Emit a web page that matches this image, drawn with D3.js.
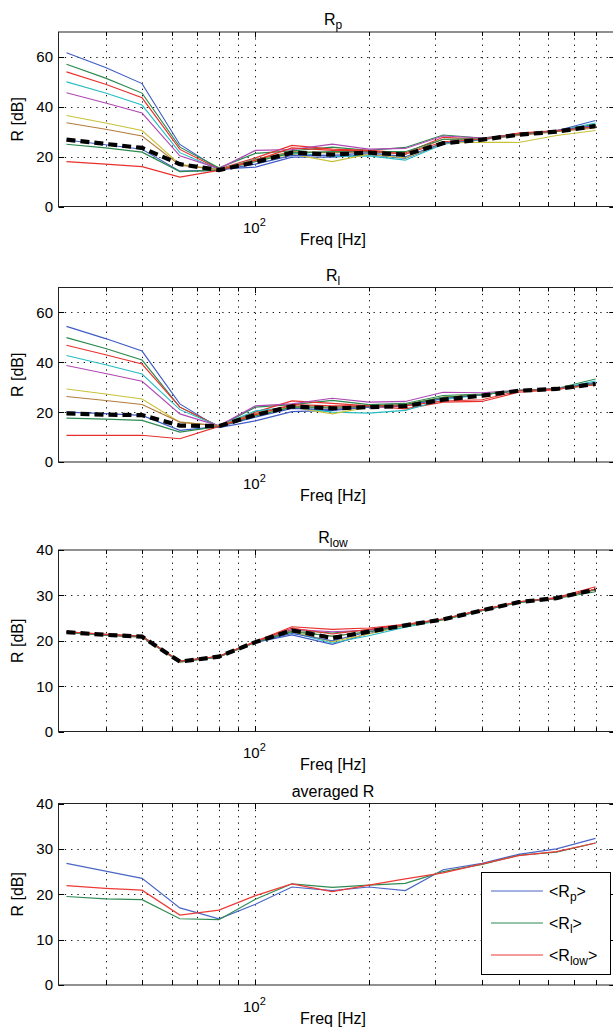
<!DOCTYPE html>
<html>
<head>
<meta charset="utf-8">
<script src="https://cdn.jsdelivr.net/npm/d3@7"></script>
<style>
  body { margin: 0; background: #fff; }
  text { font-family: "Liberation Sans", Arial, Helvetica, sans-serif; fill: #000; }
</style>
</head>
<body>
<svg id="fig" width="613" height="1030"></svg>
<script>
// Third-octave band centre frequencies [Hz]
const freqs = [31.5, 40, 50, 63, 80, 100, 125, 160, 200, 250, 315, 400, 500, 630, 800];

// R_p per measurement position [dB]
const rp1  = [61.7, 55.8, 49.3, 24.9, 15.0, 15.8, 19.8, 19.8, 20.8, 19.3, 25.2, 26.8, 28.8, 30.4, 34.5];
const rp2  = [57.1, 51.5, 45.5, 23.8, 15.5, 21.3, 22.3, 23.8, 22.5, 23.7, 28.7, 27.5, 29.0, 30.5, 33.0];
const rp3  = [54.0, 49.0, 43.6, 22.9, 15.0, 19.5, 24.5, 23.0, 22.5, 21.5, 27.8, 27.0, 29.5, 30.5, 32.5];
const rp4  = [50.0, 45.5, 40.7, 21.6, 14.8, 19.0, 21.5, 20.2, 20.3, 18.6, 25.0, 26.8, 28.8, 30.3, 33.5];
const rp5  = [45.6, 41.5, 37.5, 20.3, 15.2, 22.5, 22.8, 25.0, 23.0, 23.3, 28.3, 27.5, 29.0, 30.5, 32.5];
const rp6  = [36.5, 33.5, 30.5, 16.9, 14.8, 18.5, 21.0, 18.0, 21.0, 19.5, 25.5, 25.8, 25.7, 28.5, 30.5];
const rp7  = [33.6, 31.0, 28.3, 16.6, 14.8, 18.8, 22.0, 21.5, 22.0, 21.0, 27.0, 27.0, 28.5, 30.0, 31.5];
const rp8  = [26.7, 24.8, 23.0, 14.2, 14.5, 17.0, 20.5, 20.5, 21.5, 20.0, 25.5, 27.0, 29.0, 30.3, 32.5];
const rp9  = [25.0, 23.5, 21.8, 14.0, 14.6, 18.0, 21.5, 22.0, 22.0, 22.0, 27.0, 27.2, 29.0, 30.3, 32.0];
const rp10 = [18.0, 17.0, 16.0, 11.8, 14.5, 18.5, 23.5, 22.5, 22.3, 21.0, 26.0, 27.0, 29.2, 30.3, 32.0];

// R_l per measurement position [dB]
const rl1  = [54.4, 49.5, 44.5, 23.3, 13.8, 16.5, 20.2, 20.7, 22.0, 22.5, 25.5, 27.0, 28.7, 29.3, 32.0];
const rl2  = [49.9, 45.5, 40.9, 22.0, 14.3, 22.0, 23.0, 24.7, 23.0, 23.5, 26.7, 27.3, 28.7, 29.5, 33.3];
const rl3  = [46.8, 43.0, 39.3, 22.0, 14.3, 20.0, 24.5, 23.5, 22.5, 21.3, 24.0, 24.3, 28.0, 29.0, 31.5];
const rl4  = [42.7, 39.0, 35.3, 21.0, 14.4, 20.5, 22.0, 20.0, 19.6, 20.7, 25.0, 27.0, 28.7, 29.3, 32.5];
const rl5  = [38.7, 35.5, 32.4, 19.3, 14.5, 22.5, 23.3, 25.6, 24.0, 24.3, 28.0, 27.8, 28.8, 29.5, 31.5];
const rl6  = [29.3, 27.3, 25.3, 16.0, 14.5, 19.0, 22.0, 19.3, 22.0, 23.0, 26.0, 27.0, 28.7, 29.3, 31.0];
const rl7  = [26.3, 24.7, 23.1, 16.0, 14.5, 19.5, 22.5, 21.5, 22.0, 23.0, 26.0, 27.0, 28.7, 29.3, 31.0];
const rl8  = [20.0, 19.4, 18.7, 12.7, 14.2, 18.0, 21.5, 21.0, 22.0, 22.5, 25.5, 27.0, 28.7, 29.3, 31.5];
const rl9  = [17.6, 17.2, 16.7, 12.0, 14.3, 18.5, 22.0, 22.0, 22.3, 23.0, 26.0, 27.0, 28.7, 29.3, 31.5];
const rl10 = [10.7, 10.7, 10.7,  9.3, 14.3, 19.0, 23.0, 22.5, 22.5, 22.5, 24.5, 25.0, 28.5, 29.3, 31.0];

// R_low per measurement position [dB]
const rw1  = [21.8, 21.2, 20.8, 15.3, 16.4, 19.6, 21.3, 19.2, 21.6, 23.3, 24.7, 26.7, 28.5, 29.4, 31.3];
const rw2  = [21.9, 21.3, 21.0, 15.5, 16.5, 19.7, 22.3, 21.7, 22.4, 23.4, 24.8, 26.8, 28.5, 29.3, 30.8];
const rw3  = [22.0, 21.4, 21.0, 15.4, 16.6, 19.9, 23.1, 22.5, 22.8, 23.6, 24.8, 26.8, 28.6, 29.5, 31.9];
const rw4  = [21.9, 21.3, 20.9, 15.4, 16.5, 19.6, 21.8, 19.5, 21.1, 23.0, 24.6, 26.6, 28.4, 29.4, 31.2];
const rw5  = [21.9, 21.3, 20.9, 15.4, 16.5, 19.7, 22.5, 22.0, 22.3, 23.5, 24.7, 26.7, 28.5, 29.4, 31.3];
const rw6  = [21.8, 21.2, 20.8, 15.3, 16.4, 19.6, 22.0, 19.8, 21.5, 23.3, 24.6, 26.7, 28.5, 29.4, 31.2];
const rw7  = [21.9, 21.3, 20.9, 15.4, 16.5, 19.7, 22.2, 21.0, 22.0, 23.4, 24.7, 26.7, 28.5, 29.4, 31.3];
const rw8  = [21.9, 21.3, 20.9, 15.4, 16.5, 19.7, 21.6, 20.0, 22.0, 23.4, 24.7, 26.7, 28.5, 29.4, 31.3];
const rw9  = [21.9, 21.3, 20.9, 15.4, 16.5, 19.7, 22.0, 21.0, 22.0, 23.4, 24.7, 26.7, 28.5, 29.4, 31.3];
const rw10 = [22.0, 21.4, 21.0, 15.5, 16.6, 19.8, 22.8, 21.5, 22.5, 23.5, 24.8, 26.8, 28.6, 29.4, 31.4];

// Position-averaged curves [dB]
const avgRp   = [26.8, 25.1, 23.5, 17.0, 14.6, 17.8, 21.6, 20.8, 21.6, 20.8, 25.4, 26.8, 28.8, 30.0, 32.3];
const avgRl   = [19.5, 19.0, 18.8, 14.6, 14.4, 18.9, 22.3, 21.5, 22.0, 22.4, 25.0, 26.6, 28.6, 29.3, 31.3];
const avgRlow = [21.9, 21.3, 20.9, 15.4, 16.5, 19.7, 22.3, 20.6, 22.0, 23.4, 24.7, 26.7, 28.5, 29.4, 31.3];

const lineColors = ["#3f5bc4", "#2a8a4e", "#e8302c", "#26bcc4", "#b048b4",
                    "#c8c23a", "#b47c3c", "#3f5bc4", "#2a8a4e", "#e8302c"];

// Subplot layout
const panels = [
  { top: 32,  bottom: 206.5, ymax: 70, yticks: [0, 20, 40, 60],
    title: ["R", "p"], series: [rp1, rp2, rp3, rp4, rp5, rp6, rp7, rp8, rp9, rp10], mean: avgRp },
  { top: 287.5, bottom: 462, ymax: 70, yticks: [0, 20, 40, 60],
    title: ["R", "l"], series: [rl1, rl2, rl3, rl4, rl5, rl6, rl7, rl8, rl9, rl10], mean: avgRl },
  { top: 550, bottom: 731.5, ymax: 40, yticks: [0, 10, 20, 30, 40],
    title: ["R", "low"], series: [rw1, rw2, rw3, rw4, rw5, rw6, rw7, rw8, rw9, rw10], mean: avgRlow },
  { top: 803.5, bottom: 985, ymax: 40, yticks: [0, 10, 20, 30, 40],
    title: ["averaged R", null], averaged: true }
];

const legendItems = [
  { main: "R", sub: "p",   color: "#4a66c6", data: avgRp },
  { main: "R", sub: "l",   color: "#2e8a52", data: avgRl },
  { main: "R", sub: "low", color: "#ec3a36", data: avgRlow }
];

const svg = d3.select("#fig");
svg.append("rect").attr("width", 613).attr("height", 1030).attr("fill", "#fff");

const xLeft = 58.5, xRight = 614.8;
const x = d3.scaleLog().domain([30, 900]).range([xLeft, xRight]);
const xGrid = x.ticks().filter(f => f > 30 && f < 900);

panels.forEach(p => {
  const g = svg.append("g");
  const y = d3.scaleLinear().domain([0, p.ymax]).range([p.bottom, p.top]);

  // grid
  const grid = g.append("g").attr("stroke", "#111").attr("stroke-width", 1)
    .attr("stroke-dasharray", "1.3 5").attr("fill", "none");
  xGrid.forEach(f => {
    const xx = Math.round(x(f)) + 0.5;
    grid.append("line").attr("x1", xx).attr("x2", xx).attr("y1", p.top).attr("y2", p.bottom);
  });
  p.yticks.filter(v => v > 0 && v < p.ymax).forEach(v => {
    const yy = Math.round(y(v)) + 0.5;
    grid.append("line").attr("x1", xLeft).attr("x2", xRight).attr("y1", yy).attr("y2", yy);
  });

  // frame and tick marks
  const ax = g.append("g").attr("stroke", "#000").attr("stroke-width", 1).attr("fill", "none");
  ax.append("rect").attr("x", xLeft).attr("y", p.top)
    .attr("width", xRight - xLeft).attr("height", p.bottom - p.top).attr("stroke", "#222");
  xGrid.forEach(f => {
    const xx = Math.round(x(f)) + 0.5;
    const len = f === 100 ? 5.5 : 4;
    ax.append("line").attr("x1", xx).attr("x2", xx).attr("y1", p.bottom).attr("y2", p.bottom - len);
    ax.append("line").attr("x1", xx).attr("x2", xx).attr("y1", p.top).attr("y2", p.top + len);
  });
  p.yticks.forEach(v => {
    const yy = Math.round(y(v)) + 0.5;
    ax.append("line").attr("x1", xLeft).attr("x2", xLeft + 5.5).attr("y1", yy).attr("y2", yy);
    ax.append("line").attr("x1", xRight - 5.5).attr("x2", xRight).attr("y1", yy).attr("y2", yy);
  });

  // y tick labels
  p.yticks.forEach(v => {
    g.append("text").attr("x", 53).attr("y", y(v) + 5.4).attr("text-anchor", "end")
      .attr("font-size", 15).text(v);
  });

  // x tick label 10^2
  const xt = g.append("text").attr("x", x(100) - 1).attr("y", p.bottom + 26.5)
    .attr("text-anchor", "middle").attr("font-size", 15);
  xt.append("tspan").text("10");
  xt.append("tspan").attr("font-size", 11).attr("dy", -7).text("2");

  // axis labels
  g.append("text").attr("x", 333).attr("y", p.bottom + 38.5).attr("text-anchor", "middle")
    .attr("font-size", 16).text("Freq [Hz]");
  g.append("text").attr("transform", `translate(23,${(p.top + p.bottom) / 2}) rotate(-90)`)
    .attr("text-anchor", "middle").attr("font-size", 16).text("R [dB]");

  // title
  const tt = g.append("text").attr("x", 333).attr("y", p.top - 7).attr("text-anchor", "middle")
    .attr("font-size", 16);
  tt.append("tspan").text(p.title[0]);
  if (p.title[1]) tt.append("tspan").attr("font-size", 12).attr("dy", 4).text(p.title[1]);

  const line = d3.line().x((d, i) => x(freqs[i])).y(d => y(d));

  if (!p.averaged) {
    p.series.forEach((s, i) => {
      g.append("path").datum(s).attr("d", line).attr("fill", "none")
        .attr("stroke", lineColors[i]).attr("stroke-width", 1.1);
    });
    g.append("path").datum(p.mean).attr("d", line).attr("fill", "none")
      .attr("stroke", "#000").attr("stroke-width", 4.2).attr("stroke-dasharray", "9 5");
  } else {
    legendItems.forEach(it => {
      g.append("path").datum(it.data).attr("d", line).attr("fill", "none")
        .attr("stroke", it.color).attr("stroke-width", 1.2);
    });
    // legend
    const lg = g.append("g");
    lg.append("rect").attr("x", 481.5).attr("y", 872.5).attr("width", 129).attr("height", 102)
      .attr("fill", "#fff").attr("stroke", "#000").attr("stroke-width", 1);
    legendItems.forEach((it, i) => {
      const ly = 891 + i * 32;
      lg.append("line").attr("x1", 491).attr("x2", 543).attr("y1", ly).attr("y2", ly)
        .attr("stroke", it.color).attr("stroke-width", 1.2);
      const t = lg.append("text").attr("x", 549).attr("y", ly + 5.5).attr("font-size", 16);
      t.append("tspan").text("<" + it.main);
      t.append("tspan").attr("font-size", 12).attr("dy", 4).text(it.sub);
      t.append("tspan").attr("dy", -4).text(">");
    });
  }
});
</script>
</body>
</html>
